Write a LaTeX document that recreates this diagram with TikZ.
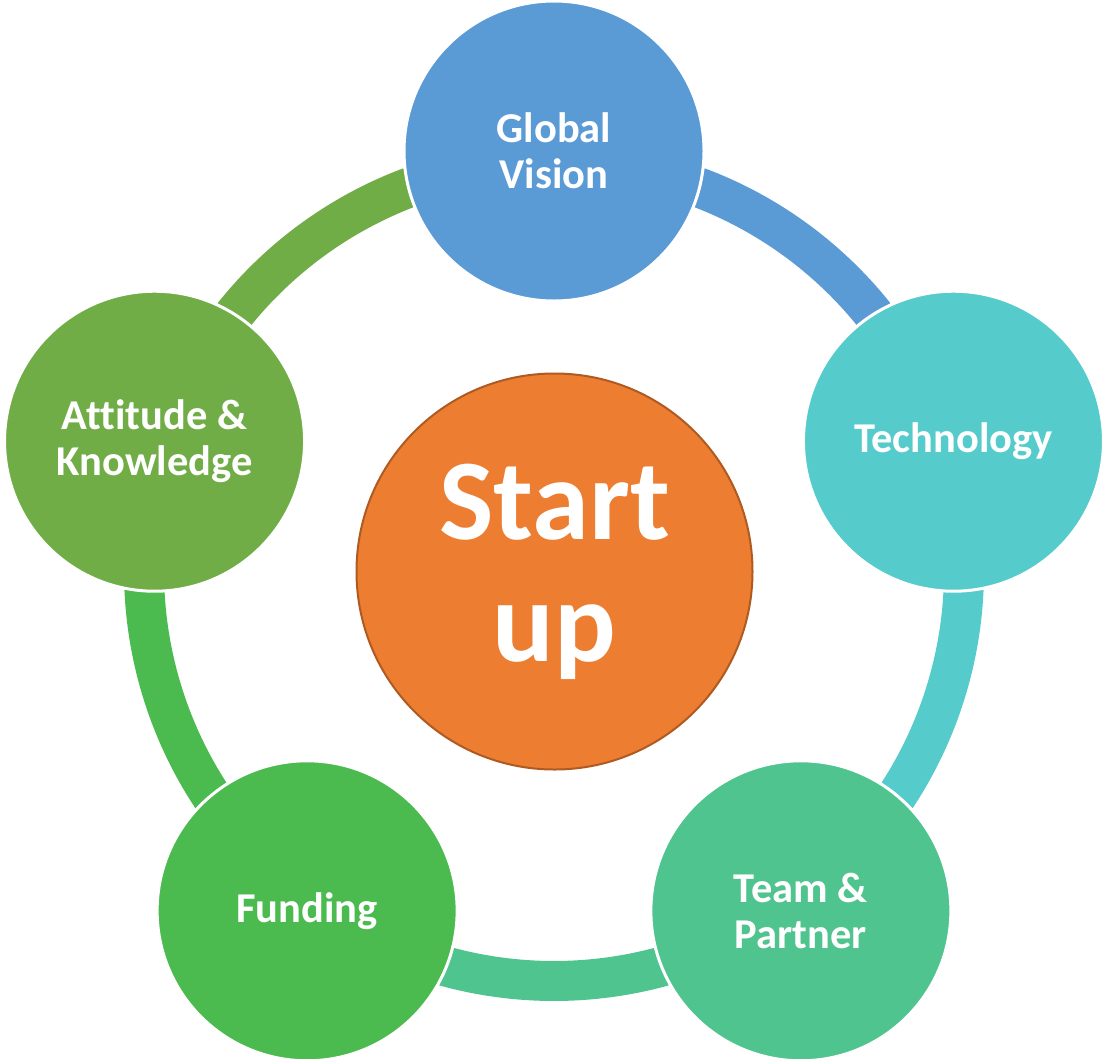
\documentclass[tikz,border=0pt]{standalone}
\usepackage{fontspec}
\setmainfont{Carlito}[Ligatures=NoCommon]
\usetikzlibrary{calc}
\definecolor{cGlobal}{HTML}{5B9BD5}
\definecolor{cTech}{HTML}{56CBCC}
\definecolor{cTeam}{HTML}{50C48E}
\definecolor{cFund}{HTML}{4BBA4F}
\definecolor{cAtt}{HTML}{71AD47}
\definecolor{cOrange}{HTML}{ED7D31}
\definecolor{cOrangeDark}{HTML}{AE5A21}
\begin{document}
\begin{tikzpicture}[x=1pt,y=1pt,
  outer/.style={circle, minimum size=300pt, inner sep=0pt, draw=white, line width=3pt,
    text=white, font=\fontsize{42.5}{46}\selectfont\bfseries, align=center},
  band/.style={line width=40pt, line cap=butt},
  hub/.style={circle, minimum size=396pt, inner sep=0pt, fill=cOrange, draw=cOrangeDark,
    line width=2pt, text=white, font=\fontsize{115}{122}\selectfont\bfseries, align=center}]
\useasboundingbox (0,0) rectangle (1105,-1058);
\coordinate (ring) at (554,-571);
% ring segments
\foreach \a/\c in {90/cGlobal, 18/cTech, -54/cTeam, -126/cFund, 162/cAtt} {
  \pgfmathsetmacro{\sa}{\a-20.5}
  \pgfmathsetmacro{\ea}{\a-72+20.5}
  \draw[band, draw=\c] ($(ring)+(\sa:410)$) arc[start angle=\sa, end angle=\ea, radius=410];
}
% outer circles
\node[outer, fill=cGlobal] (global) at ($(ring)+(90:420)$) {Global\\Vision};
\node[outer, fill=cTech] (tech) at ($(ring)+(18:420)$) {Technology};
\node[outer, fill=cTeam] (team) at ($(ring)+(-54:420)$) {Team \&\\Partner};
\node[outer, fill=cFund] (fund) at ($(ring)+(-126:420)$) {Funding};
\node[outer, fill=cAtt] (att) at ($(ring)+(162:420)$) {Attitude \&\\Knowledge};
% hub
\node[hub] (start) at (554.5,-571.5) {Start\\up};
\end{tikzpicture}
\end{document}
